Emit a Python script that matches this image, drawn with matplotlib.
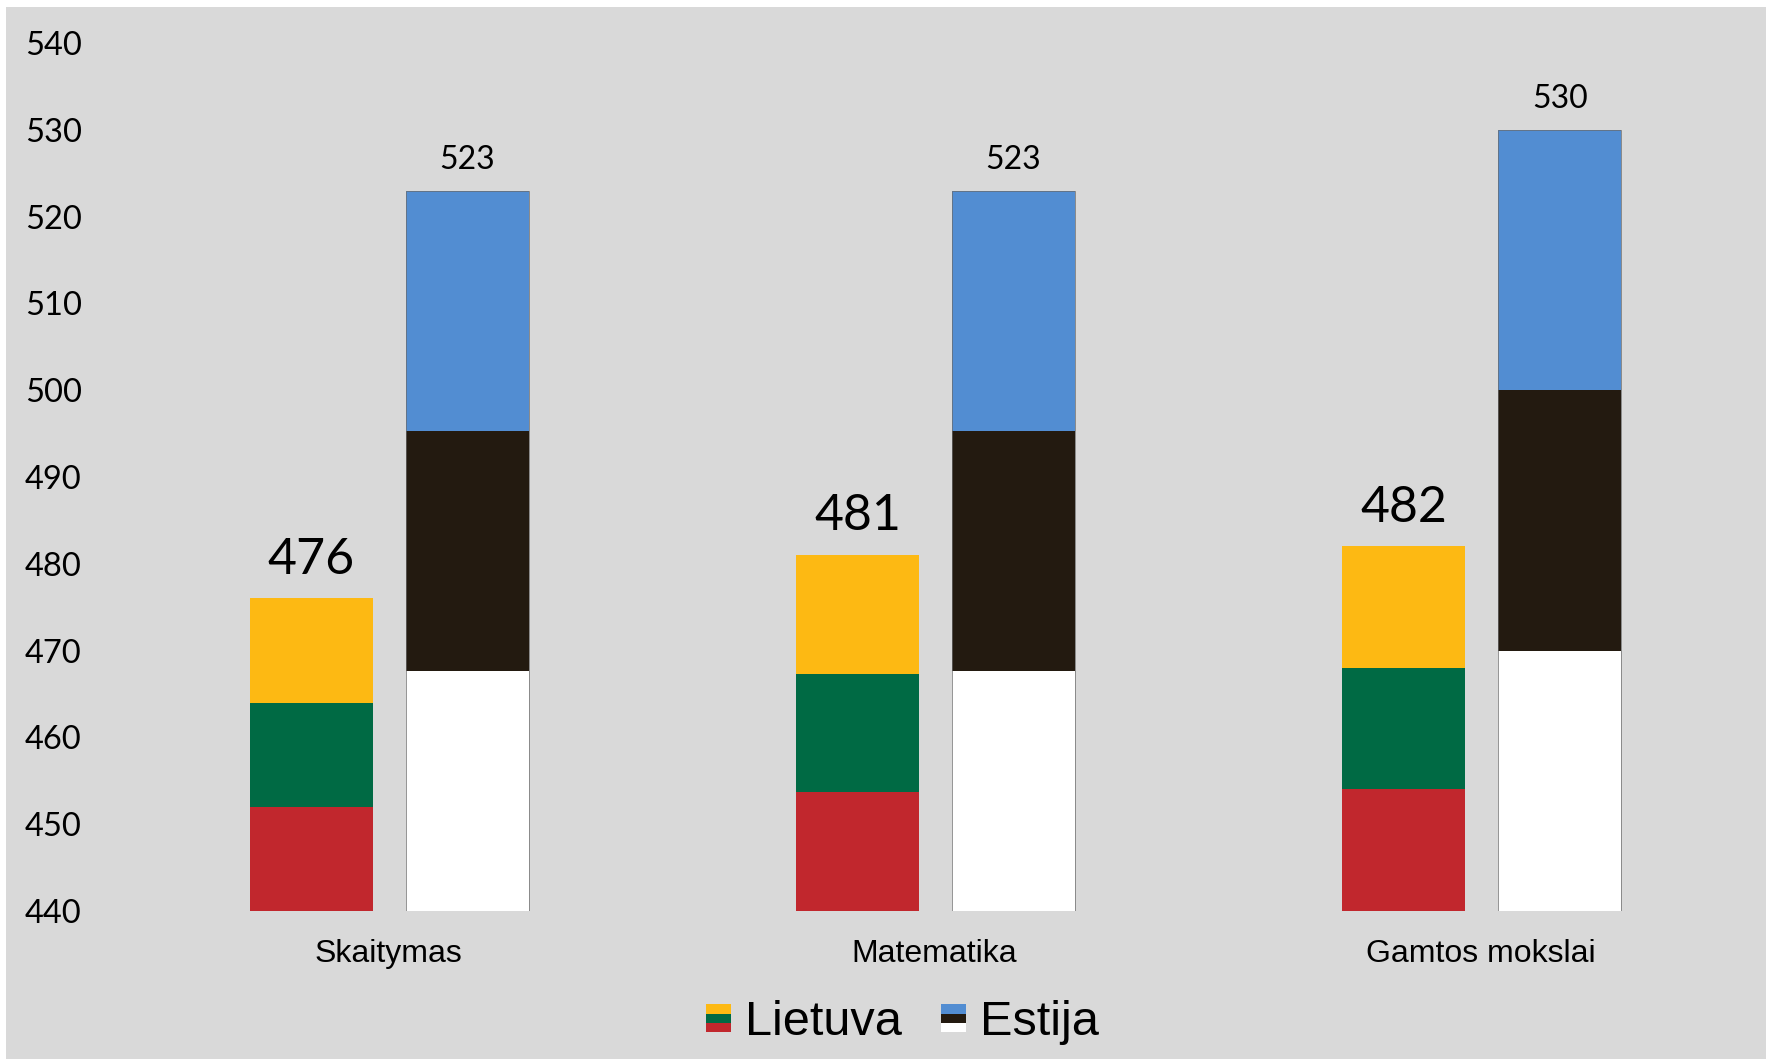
import numpy as np
import matplotlib.pyplot as plt
from matplotlib.patches import Rectangle, Patch
from matplotlib.legend_handler import HandlerBase

# Duomenys
categories = ['Skaitymas', 'Matematika', 'Gamtos mokslai']
lietuva = [476, 481, 482]
estija = [523, 523, 530]
base = 440

# Vėliavų spalvos (apačia -> viršus)
lt_colors = ['#C1272D', '#006A44', '#FDB913']
ee_colors = ['#FFFFFF', '#231A10', '#528DD2']
bg = '#D9D9D9'


class FlagHandler(HandlerBase):
    def __init__(self, colors):
        super().__init__()
        self.colors = colors

    def create_artists(self, legend, orig_handle, xdescent, ydescent,
                       width, height, fontsize, trans):
        h = height / 3
        arts = []
        for i, c in enumerate(self.colors):
            r = Rectangle((-xdescent, -ydescent + i * h), width, h,
                          facecolor=c, edgecolor='none', transform=trans)
            arts.append(r)
        return arts


fig = plt.figure(figsize=(17.66, 10.59), dpi=100, facecolor='white')
fig.patches.append(Rectangle((6 / 1766, 0), 1, 1 - 7 / 1059, transform=fig.transFigure,
                             facecolor=bg, edgecolor='none', zorder=-10))
ax = fig.add_axes([0.0651, 0.1398, 0.9281, 0.8196])
ax.set_facecolor('none')

x = np.arange(len(categories))
w = 0.225
off_lt = 0.141
off_ee = 0.1445

for vals, colors, dx, edge in [(lietuva, lt_colors, -off_lt, None), (estija, ee_colors, off_ee, '#6a6a6a')]:
    for i, v in enumerate(vals):
        seg = (v - base) / 3
        for j, c in enumerate(colors):
            ax.bar(x[i] + dx, seg, w, bottom=base + j * seg, color=c,
                   edgecolor='none', zorder=2)
        if edge:
            ax.add_patch(Rectangle((x[i] + dx - w / 2, base), w, v - base,
                                   facecolor='none', edgecolor=edge, lw=0.5, zorder=3))

for i, v in enumerate(lietuva):
    ax.annotate(str(v), (x[i] - off_lt, v), xytext=(0, 28), textcoords='offset points',
                ha='center', va='center', fontsize=36, family='Lato')
for i, v in enumerate(estija):
    ax.annotate(str(v), (x[i] + off_ee, v), xytext=(0, 22), textcoords='offset points',
                ha='center', va='center', fontsize=23, family='Lato')

ax.set_xlim(-0.5, 2.5)
ax.set_ylim(440, 540)
ax.set_yticks(np.arange(440, 541, 10))
ax.set_xticks(x)
ax.set_xticklabels(categories, family='Liberation Sans', fontsize=23)
for lab in ax.get_yticklabels():
    lab.set_family('Lato')
    lab.set_fontsize(23.5)
ax.tick_params(axis='both', length=0)
ax.tick_params(axis='y', pad=24)
ax.tick_params(axis='x', pad=20)
for s in ax.spines.values():
    s.set_visible(False)

h_lt = Patch()
h_ee = Patch()
fig.legend([h_lt, h_ee], ['Lietuva', 'Estija'],
           handler_map={h_lt: FlagHandler(lt_colors), h_ee: FlagHandler(ee_colors)},
           loc='center', bbox_to_anchor=(0.511, 0.034), ncol=2, frameon=False,
           prop={'family': 'Liberation Sans', 'size': 35},
           handlelength=0.51, handleheight=0.51, handletextpad=0.3, columnspacing=0.8)

fig.savefig('out.png', dpi=100, facecolor='white')
